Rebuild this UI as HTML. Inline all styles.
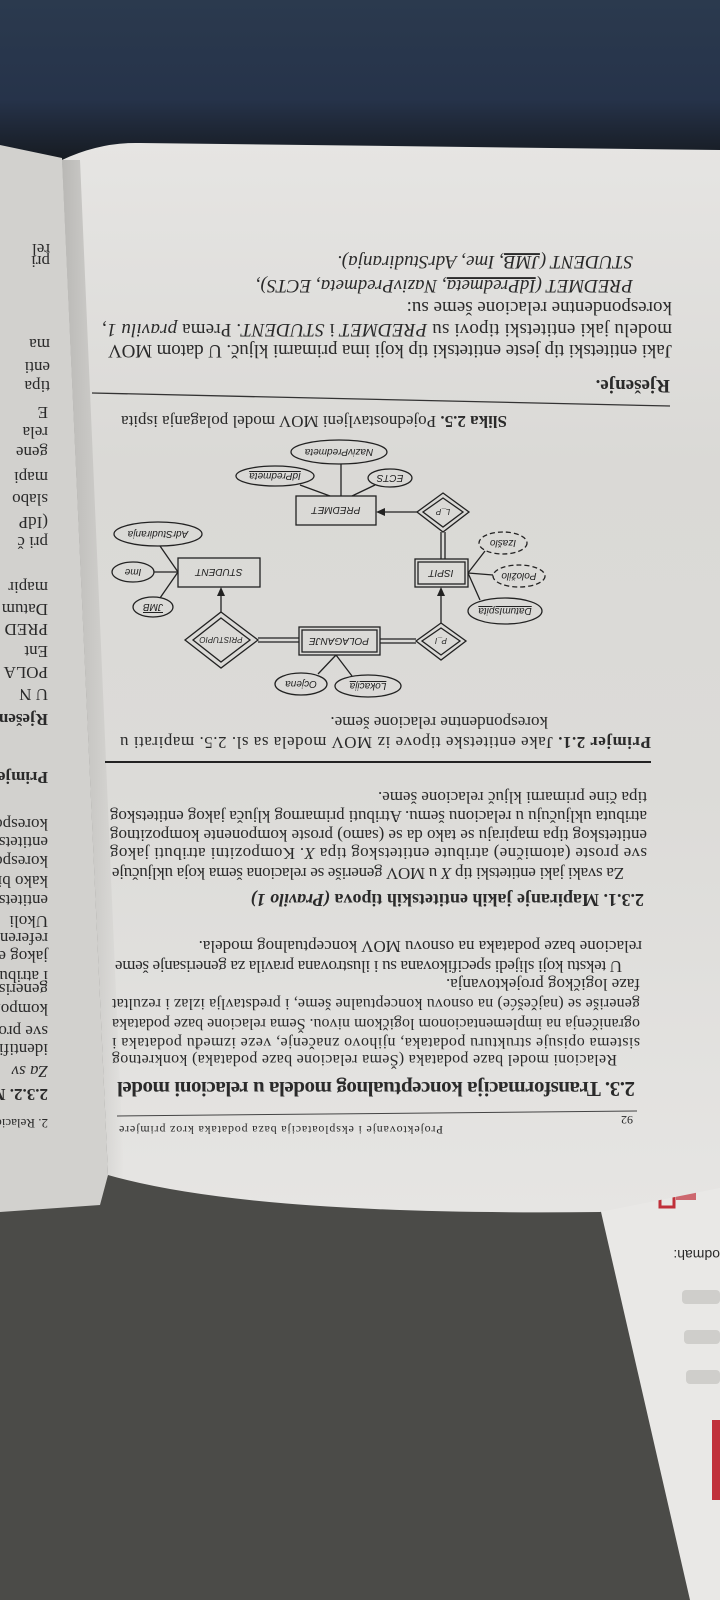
<!DOCTYPE html>
<html><head><meta charset="utf-8"><style>
html,body{margin:0;padding:0;background:#4a4a47;}
svg{display:block}
.t{font-family:"Liberation Serif",serif;fill:#2a2a2a}
.d{font-family:"Liberation Sans",sans-serif;font-style:italic;font-size:10px;fill:#222}
</style></head><body>
<svg width="720" height="1600" viewBox="0 0 720 1600" xmlns="http://www.w3.org/2000/svg">
<defs>
<linearGradient id="fab" x1="0" y1="0" x2="0" y2="1">
<stop offset="0" stop-color="#2b3a4e"/><stop offset="0.6" stop-color="#26334a"/><stop offset="1" stop-color="#15191e"/>
</linearGradient>
<linearGradient id="pg" x1="0" y1="0" x2="0" y2="1">
<stop offset="0" stop-color="#e6e5e3"/><stop offset="0.3" stop-color="#dad9d6"/><stop offset="0.6" stop-color="#dcdbd8"/><stop offset="1" stop-color="#e6e5e3"/>
</linearGradient>
<linearGradient id="gut" x1="0" y1="0" x2="1" y2="0">
<stop offset="0" stop-color="#b9b8b5"/><stop offset="1" stop-color="#b9b8b5" stop-opacity="0"/>
</linearGradient>
</defs>
<rect width="720" height="1600" fill="#4b4b48"/>
<rect width="720" height="165" fill="url(#fab)"/>
<!-- left page -->
<polygon points="0,145 62,158 108,1175 100,1205 0,1212" fill="#d2d1ce"/>
<!-- right paper -->
<polygon points="596,1190 720,1185 720,1600 690,1600" fill="#e9e8e6"/>
<rect x="682" y="1290" width="38" height="14" rx="4" fill="#cfcecb"/>
<rect x="684" y="1330" width="36" height="14" rx="4" fill="#cfcecb"/>
<rect x="686" y="1370" width="34" height="14" rx="4" fill="#cfcecb"/>
<rect x="712" y="1420" width="8" height="80" fill="#c0303a"/>
<rect x="660" y="1193" width="14" height="14" fill="none" stroke="#c0303a" stroke-width="3"/>
<rect x="676" y="1192" width="20" height="8" fill="#c0303a" opacity="0.7"/>
<!-- main page -->
<path d="M62,160 Q100,142 140,143 L720,150 L720,1188 L600,1212 Q250,1216 108,1175 Z" fill="url(#pg)"/>
<polygon points="62,160 80,160 124,1178 108,1175" fill="url(#gut)"/>
<!-- rules -->
<line x1="92" y1="393" x2="670" y2="406" stroke="#333" stroke-width="1.3"/>
<line x1="105" y1="762" x2="651" y2="762" stroke="#222" stroke-width="2"/>
<line x1="117" y1="1116" x2="637" y2="1111" stroke="#444" stroke-width="1"/>

<!-- diagram -->
<g stroke="#222" stroke-width="1.3" fill="none">
<ellipse cx="339" cy="452" rx="48" ry="12"/>
<ellipse cx="275" cy="476" rx="39" ry="10"/>
<ellipse cx="390" cy="478" rx="22" ry="9"/>
<rect x="296" y="496" width="80" height="29"/>
<line x1="341" y1="496" x2="341" y2="464"/>
<line x1="330" y1="496" x2="300" y2="485"/>
<line x1="352" y1="496" x2="375" y2="485"/>
<polygon points="443,493 469,512 443,532 417,512"/>
<polygon points="443,498 463,512 443,527 423,512"/>
<line x1="417" y1="512" x2="384" y2="512"/>
<line x1="441" y1="532" x2="441" y2="559"/><line x1="445" y1="532" x2="445" y2="559"/>
<rect x="415" y="559" width="53" height="28"/>
<rect x="418" y="562" width="47" height="22"/>
<ellipse cx="503" cy="543" rx="24" ry="11" stroke-dasharray="5,3"/>
<ellipse cx="519" cy="576" rx="26" ry="11" stroke-dasharray="5,3"/>
<ellipse cx="505" cy="611" rx="37" ry="13"/>
<line x1="468" y1="573" x2="485" y2="551"/>
<line x1="468" y1="573" x2="493" y2="575"/>
<line x1="468" y1="573" x2="480" y2="600"/>
<polygon points="441,623 466,641 441,660 416,641"/>
<polygon points="441,628 460,641 441,655 422,641"/>
<line x1="441" y1="623" x2="441" y2="595"/>
<rect x="299" y="627" width="81" height="28"/>
<rect x="302" y="630" width="75" height="22"/>
<line x1="380" y1="639" x2="416" y2="639"/><line x1="380" y1="643" x2="416" y2="643"/>
<polygon points="221,612 258,640 221,668 185,640"/>
<polygon points="221,618 250,640 221,662 193,640"/>
<line x1="258" y1="638" x2="299" y2="638"/><line x1="258" y1="642" x2="299" y2="642"/>
<line x1="221" y1="612" x2="221" y2="595"/>
<rect x="178" y="558" width="82" height="29"/>
<ellipse cx="158" cy="534" rx="44" ry="12"/>
<ellipse cx="133" cy="572" rx="21" ry="10"/>
<ellipse cx="153" cy="607" rx="20" ry="10"/>
<line x1="178" y1="572" x2="160" y2="546"/>
<line x1="178" y1="572" x2="154" y2="572"/>
<line x1="178" y1="572" x2="160" y2="598"/>
<ellipse cx="301" cy="684" rx="26" ry="11"/>
<ellipse cx="368" cy="686" rx="33" ry="11"/>
<line x1="336" y1="655" x2="318" y2="674"/>
<line x1="336" y1="655" x2="352" y2="676"/>
</g>
<g fill="#222">
<polygon points="376,512 385,508 385,516"/>
<polygon points="441,587 437,596 445,596"/>
<polygon points="221,587 217,596 225,596"/>
</g>
<g class="d">
<text x="339" y="455" text-anchor="middle" transform="rotate(180 339 452)">NazivPredmeta</text>
<text x="275" y="479" text-anchor="middle" transform="rotate(180 275 476)" text-decoration="underline">IdPredmeta</text>
<text x="390" y="481" text-anchor="middle" transform="rotate(180 390 478)">ECTS</text>
<text x="336" y="515" text-anchor="middle" transform="rotate(180 336 511)">PREDMET</text>
<text x="443" y="515" text-anchor="middle" font-size="8" transform="rotate(180 443 512)">L_P</text>
<text x="441" y="576" text-anchor="middle" transform="rotate(180 441 573)">ISPIT</text>
<text x="503" y="546" text-anchor="middle" transform="rotate(180 503 543)">Izašlo</text>
<text x="519" y="579" text-anchor="middle" transform="rotate(180 519 576)">Položilo</text>
<text x="505" y="614" text-anchor="middle" transform="rotate(180 505 611)" text-decoration="underline">DatumIspita</text>
<text x="441" y="644" text-anchor="middle" font-size="8" transform="rotate(180 441 641)">P_I</text>
<text x="339" y="644" text-anchor="middle" transform="rotate(180 339 641)">POLAGANJE</text>
<text x="221" y="643" text-anchor="middle" font-size="8" transform="rotate(180 221 640)">PRISTUPIO</text>
<text x="219" y="575" text-anchor="middle" transform="rotate(180 219 572)">STUDENT</text>
<text x="158" y="537" text-anchor="middle" transform="rotate(180 158 534)">AdrStudiranja</text>
<text x="133" y="575" text-anchor="middle" transform="rotate(180 133 572)">Ime</text>
<text x="153" y="610" text-anchor="middle" transform="rotate(180 153 607)" text-decoration="overline">JMB</text>
<text x="301" y="687" text-anchor="middle" transform="rotate(180 301 684)">Ocjena</text>
<text x="368" y="689" text-anchor="middle" transform="rotate(180 368 686)" text-decoration="underline">Lokacija</text>
</g>

<!-- page text, rotated 180 -->
<g transform="rotate(180 360 800)" class="t">
<text x="50" y="1220" font-size="19" font-weight="bold">Rješenje.</text>
<text x="48" y="1255" font-size="19" textLength="564" lengthAdjust="spacing">Jaki entitetski tip jeste entitetski tip koji ima primarni ključ. U datom MOV</text>
<text x="48" y="1276" font-size="19" textLength="570" lengthAdjust="spacing">modelu jaki entitetski tipovi su <tspan font-style="italic">PREDMET</tspan> i <tspan font-style="italic">STUDENT</tspan>. Prema <tspan font-style="italic">pravilu 1</tspan>,</text>
<text x="48" y="1298" font-size="19">korespondentne relacione šeme su:</text>
<text x="87" y="1320" font-size="19" font-style="italic">PREDMET (<tspan text-decoration="underline">IdPredmeta</tspan>, NazivPredmeta, ECTS),</text>
<text x="87" y="1344" font-size="19" font-style="italic">STUDENT (<tspan text-decoration="underline">JMB</tspan>, Ime, AdrStudiranja).</text>

<text x="213" y="1184" font-size="17"><tspan font-weight="bold">Slika 2.5.</tspan> Pojednostavljeni MOV model polaganja ispita</text>

<text x="172" y="883" font-size="17">korespondentne relacione šeme.</text>
<text x="69" y="863" font-size="17" textLength="531" lengthAdjust="spacing"><tspan font-weight="bold">Primjer 2.1.</tspan>   Jake entitetske tipove iz MOV modela sa sl. 2.5. mapirati u</text>
<text x="73" y="808" font-size="17">tipa čine primarni ključ relacione šeme.</text>
<text x="73" y="789" font-size="17" textLength="537" lengthAdjust="spacing">atributa uključuju u relacionu šemu. Atributi primarnog ključa jakog entitetskog</text>
<text x="73" y="770" font-size="17" textLength="537" lengthAdjust="spacing">entitetskog tipa mapiraju se tako da se (samo) proste komponente kompozitnog</text>
<text x="73" y="752" font-size="17" textLength="537" lengthAdjust="spacing">sve proste (atomične) atribute entitetskog tipa <tspan font-style="italic">X</tspan>. Kompozitni atributi jakog</text>
<text x="96" y="732" font-size="17" textLength="512" lengthAdjust="spacing">Za svaki jaki entitetski tip <tspan font-style="italic">X</tspan> u MOV generiše se relaciona šema koja uključuje</text>
<text x="76" y="706" font-size="18" font-weight="bold">2.3.1.  Mapiranje jakih entitetskih tipova <tspan font-style="italic">(Pravilo 1)</tspan></text>
<text x="78" y="659" font-size="17">relacione baze podataka na osnovu MOV konceptualnog modela.</text>
<text x="98" y="639" font-size="17" textLength="507" lengthAdjust="spacing">U tekstu koji slijedi specifikovana su i ilustrovana pravila za generisanje šeme</text>
<text x="80" y="621" font-size="17">faze logičkog projektovanja.</text>
<text x="80" y="601" font-size="16" textLength="528" lengthAdjust="spacing">generiše se (najčešće) na osnovu konceptualne šeme, i predstavlja izlaz i rezultat</text>
<text x="80" y="581" font-size="16" textLength="528" lengthAdjust="spacing">ograničenja na implementacionom logičkom nivou. Šema relacione baze podataka</text>
<text x="80" y="562" font-size="16" textLength="528" lengthAdjust="spacing">sistema opisuje strukturu podataka, njihovo značenje, veze između podataka i</text>
<text x="103" y="545" font-size="16" textLength="505" lengthAdjust="spacing">Relacioni model baze podataka (Šema relacione baze podataka) konkretnog</text>
<text x="85" y="518" font-size="21" font-weight="bold" textLength="518" lengthAdjust="spacing">2.3.  Transformacija konceptualnog modela u relacioni model</text>
<text x="87" y="484" font-size="12">92</text>
<text x="277" y="474" font-size="12" textLength="324" lengthAdjust="spacing">Projektovanje i eksploatacija baza podataka kroz primjere</text>

<!-- left page fragments -->
<g font-size="17">
<text x="670" y="1219">tipa</text><text x="670" y="1238">enti</text><text x="670" y="1261">ma</text>
<text x="670" y="1344">pri</text><text x="670" y="1356">rel</text>
<text x="672" y="1193">E</text><text x="672" y="1173">rela</text><text x="672" y="1153">gene</text>
<text x="672" y="1128">mapi</text><text x="672" y="1106">slabo</text><text x="672" y="1083">(IdP</text>
<text x="672" y="1063">pri č</text><text x="672" y="1018">mapir</text><text x="672" y="996">Datum</text>
<text x="672" y="976">PRED</text><text x="672" y="954">Ent</text><text x="672" y="933">POLA</text>
<text x="672" y="911">U N</text><text x="672" y="886" font-weight="bold">Rješen</text>
<text x="672" y="828" font-weight="bold">Primje</text><text x="672" y="781">korespo</text>
<text x="672" y="763">entitetsk</text><text x="672" y="744">korespon</text><text x="672" y="724">kako bi</text>
<text x="672" y="705">entitetsk</text><text x="672" y="684">Ukoli</text><text x="672" y="667">referenci</text>
<text x="672" y="649">jakog en</text><text x="672" y="629">i atributa</text><text x="672" y="616">generisan</text>
<text x="672" y="596">kompozit</text><text x="672" y="574">sve proste</text><text x="672" y="556">identifikuj</text>
<text x="672" y="534" font-style="italic">Za sv</text><text x="672" y="511" font-weight="bold">2.3.2. M</text>
<text x="672" y="481" font-size="13">2. Relacioni</text>
</g>
<text x="0" y="350" font-size="14" font-family="Liberation Sans, sans-serif">odmah:</text>
</g>
</svg>
</body></html>
